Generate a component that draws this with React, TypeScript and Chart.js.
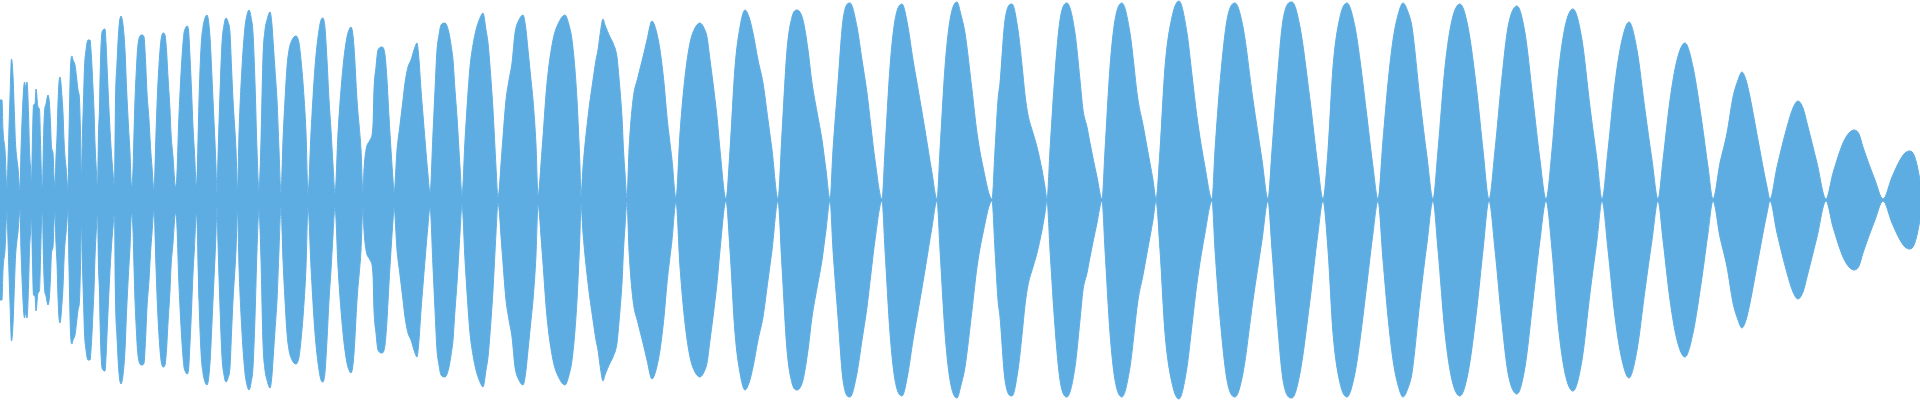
import React, { useEffect, useRef } from 'react';
import Chart from 'chart.js/auto';

// Sample index (time) of each envelope reading, one line per lobe
const samplePositions: number[] = [
  0, 2, 3, 5, 7,
  8, 9, 10, 11.5, 13, 14.5, 15.5, 17, 18, 20,
  21, 22.5, 24.5, 25.5, 27, 28.5, 29.5, 30.5, 31.5,
  32.5, 33.5, 35, 36, 38, 39.5, 40.5, 41.5, 42.5,
  43.5, 44.5, 46, 48, 49.5, 50.5, 51.5, 53, 54, 55,
  56, 57, 58, 59, 60, 62, 63, 64, 65, 66, 67, 68,
  69, 70.5, 72, 73, 75, 76.5, 78, 79.5, 80.5, 81.5,
  82.5, 83.5, 84.5, 86, 88, 90, 91, 92, 93, 94, 95, 96.5, 97.5,
  98.5, 99.5, 100, 101.5, 103, 105, 106, 107.5, 109, 111, 113, 114.5,
  115.5, 117, 119, 121, 123, 125, 126.5, 128.5, 130, 131.5,
  133, 134, 135, 136.5, 137.5, 139.5, 142, 144, 145.5, 147, 149, 150.5, 152, 154,
  156, 157.5, 159.5, 161, 163, 165, 166.5, 168, 170, 171, 173, 175.5,
  177, 178.5, 180, 182, 184, 185.5, 187, 188.5, 190, 191.5, 193, 194.5, 196.5,
  199, 200, 201.5, 203, 205, 207, 210, 211.5, 213, 215, 216, 217,
  218, 220, 222, 224, 226, 228, 230, 231.5, 233, 236, 237.5,
  239, 242, 245, 247, 249, 251, 253, 255, 257, 259,
  261, 263, 265, 267, 270, 272, 273, 275, 277, 279, 281,
  283, 285, 287, 289, 292, 296, 299, 301, 303, 306, 308,
  311, 315, 319, 321, 323, 325, 327, 329, 331, 333, 335,
  338, 343, 347, 349, 351, 352.5, 354, 357, 361, 363,
  364, 366, 370, 373, 374, 376, 378, 382, 385, 387, 389, 391, 393, 394,
  397, 400, 403, 405, 408, 411, 414, 417, 419, 421, 423, 425, 428, 430,
  433, 435, 437, 439, 441, 445, 449, 451, 453, 455, 457, 460, 462,
  465, 470, 473, 476, 480, 483, 486, 488, 491, 493, 496, 498,
  502, 506, 509, 512, 515, 519, 523, 526, 528, 531, 533, 536, 538,
  542, 547, 553, 559, 565, 569, 572, 575, 577, 580, 581,
  583, 588, 593, 596, 598, 600, 603, 605, 610, 613, 617, 618, 620, 622, 623.5, 625, 627,
  629, 633, 638, 643, 647, 652, 656, 660, 664, 667, 672, 676,
  680, 685, 690, 695, 700, 704, 707, 710, 713, 717, 720, 726,
  730, 735, 740, 745, 749, 753, 758, 763, 768, 772, 778,
  782, 787, 792, 797, 803, 808, 812, 817, 822, 826, 830,
  833, 838, 843, 850, 857, 862, 867, 871, 875, 882,
  885, 890, 895, 902, 908, 913, 917, 925, 932, 937,
  940, 945, 950, 957, 961, 965, 972, 977, 983, 992,
  995, 998, 1000, 1005, 1012, 1018, 1022, 1025, 1028, 1033, 1037, 1042, 1045, 1047,
  1050, 1055, 1060, 1067, 1075, 1080, 1083, 1087, 1090, 1097, 1102,
  1105, 1110, 1115, 1122, 1130, 1138, 1143, 1147, 1153, 1156,
  1160, 1165, 1172, 1179, 1187, 1192, 1197, 1205, 1212,
  1215, 1220, 1227, 1235, 1243, 1253, 1262, 1268,
  1272, 1277, 1283, 1292, 1300, 1310, 1318, 1323,
  1328, 1333, 1340, 1347, 1355, 1360, 1367, 1373, 1378,
  1383, 1388, 1393, 1398, 1403, 1408, 1412, 1420, 1427, 1433,
  1438, 1445, 1452, 1460, 1468, 1477, 1483, 1489,
  1495, 1502, 1508, 1517, 1525, 1533, 1540, 1546,
  1552, 1558, 1565, 1573, 1582, 1590, 1597, 1602,
  1608, 1615, 1622, 1629, 1637, 1645, 1652, 1658,
  1663, 1670, 1677, 1685, 1693, 1702, 1708, 1713,
  1720, 1727, 1733, 1738, 1742, 1746, 1750, 1758, 1767, 1770,
  1777, 1787, 1793, 1798, 1803, 1807, 1817, 1826,
  1833, 1843, 1849, 1854, 1859, 1863, 1875, 1883,
  1892, 1900, 1905, 1910, 1914, 1917, 1920,
];

// Envelope amplitude at each sample (waveform is symmetric around 0)
const amplitude: number[] = [
  100, 100, 70, 50, 12,
  40, 73, 103, 141, 124, 83, 57, 40, 32, 10,
  50, 90, 118, 113, 118, 87, 50, 33, 18,
  63, 95, 96, 111, 93, 90, 60, 23, 13,
  60, 88, 96, 105, 96, 77, 53, 47, 23, 13,
  43, 63, 97, 118, 123, 103, 87, 60, 43, 33, 20, 10,
  67, 133, 144, 140, 135, 123, 110, 100, 67, 23,
  67, 100, 133, 150, 160, 160, 150, 133, 112, 90, 57, 27, 12,
  67, 92, 120, 163, 170, 171, 157, 123, 90, 53, 27, 12,
  100, 137, 173, 184, 175, 150, 113, 73, 47, 13,
  30, 67, 100, 133, 150, 163, 165, 163, 140, 107, 80, 53, 33, 10,
  67, 107, 143, 160, 167, 165, 150, 123, 90, 67, 43, 13,
  27, 73, 107, 143, 167, 172, 174, 170, 143, 110, 73, 47, 13,
  100, 130, 160, 173, 182, 185, 163, 133, 100, 57, 33, 7,
  43, 107, 157, 175, 182, 178, 167, 133, 100, 50, 10,
  67, 133, 173, 185, 190, 183, 167, 117, 50, 10,
  60, 143, 170, 180, 188, 175, 160, 130, 100, 50, 7,
  60, 100, 133, 150, 160, 164, 157, 140, 117, 67, 7,
  67, 133, 170, 180, 182, 172, 140, 100, 70, 35, 7,
  67, 133, 163, 170, 173, 168, 153, 100, 50, 7,
  30, 50, 60, 75, 110, 133, 150, 153, 145, 120, 83, 50, 20, 7,
  50, 75, 100, 117, 133, 140, 150, 157, 140, 110, 85, 60, 25, 7,
  67, 110, 150, 165, 175, 177, 167, 155, 140, 110, 83, 33, 5,
  60, 133, 155, 170, 182, 187, 170, 157, 120, 90, 33, 3,
  50, 100, 120, 137, 167, 180, 185, 170, 150, 120, 100, 55, 5,
  50, 117, 160, 178, 185, 175, 160, 130, 100, 33, 4,
  33, 83, 120, 140, 150, 165, 181, 175, 163, 157, 143, 133, 110, 83, 50, 27, 2,
  50, 100, 123, 143, 160, 179, 170, 150, 117, 83, 40, 2,
  67, 123, 157, 172, 177, 172, 163, 140, 117, 83, 50, 1,
  50, 133, 173, 190, 183, 167, 140, 117, 80, 50, 1,
  67, 150, 183, 190, 180, 150, 117, 88, 60, 30, 1,
  50, 117, 180, 197, 173, 140, 107, 73, 40, 1,
  50, 133, 180, 196, 173, 140, 117, 70, 27, 1,
  50, 133, 180, 198, 185, 167, 110, 67, 33, 1,
  50, 100, 117, 180, 196, 170, 135, 105, 85, 67, 53, 30, 13, 1,
  50, 127, 180, 197, 167, 120, 90, 73, 57, 23, 1,
  50, 133, 180, 197, 167, 100, 75, 53, 20, 1,
  50, 133, 183, 199, 167, 125, 83, 33, 1,
  50, 117, 180, 197, 173, 100, 40, 1,
  50, 117, 180, 198, 173, 100, 33, 1,
  50, 133, 183, 197, 173, 140, 83, 33, 1,
  60, 117, 160, 185, 197, 188, 173, 100, 43, 1,
  50, 133, 180, 196, 173, 107, 50, 1,
  50, 123, 173, 194, 167, 100, 40, 1,
  50, 123, 173, 191, 160, 93, 40, 1,
  50, 117, 160, 178, 150, 90, 40, 1,
  40, 100, 140, 157, 133, 77, 33, 1,
  37, 67, 103, 120, 128, 120, 103, 60, 13, 1,
  33, 73, 92, 99, 92, 77, 37, 1,
  27, 57, 67, 70, 66, 53, 20, 1,
  23, 40, 47, 49, 45, 35, 20,
];

const X_MIN = 0;
const X_MAX = 1920;
const Y_LIMIT = 200;
const WAVE_COLOR = '#5DADE2';

export default function App() {
  const canvasRef = useRef<HTMLCanvasElement>(null);

  useEffect(() => {
    document.body.style.margin = '0';
    const canvas = canvasRef.current;
    if (!canvas) return;
    const upper = samplePositions.map((x, i) => ({ x, y: amplitude[i] }));
    const lower = samplePositions.map((x, i) => ({ x, y: -amplitude[i] }));
    const common = {
      fill: 'origin' as const,
      backgroundColor: WAVE_COLOR,
      borderColor: WAVE_COLOR,
      borderWidth: 1,
      pointRadius: 0,
      pointHoverRadius: 0,
      cubicInterpolationMode: 'monotone' as const,
    };
    const chart = new Chart(canvas, {
      type: 'line',
      data: {
        datasets: [
          { ...common, data: upper },
          { ...common, data: lower },
        ],
      },
      options: {
        responsive: false,
        animation: false,
        events: [],
        layout: { padding: 0 },
        scales: {
          x: { type: 'linear', min: X_MIN, max: X_MAX, display: false },
          y: { type: 'linear', min: -Y_LIMIT, max: Y_LIMIT, display: false },
        },
        plugins: {
          legend: { display: false },
          tooltip: { enabled: false },
        },
      },
    });
    return () => chart.destroy();
  }, []);

  return (
    <div style={{ width: 1920, height: 400 }}>
      <canvas ref={canvasRef} width={1920} height={400} style={{ display: 'block' }} />
    </div>
  );
}
